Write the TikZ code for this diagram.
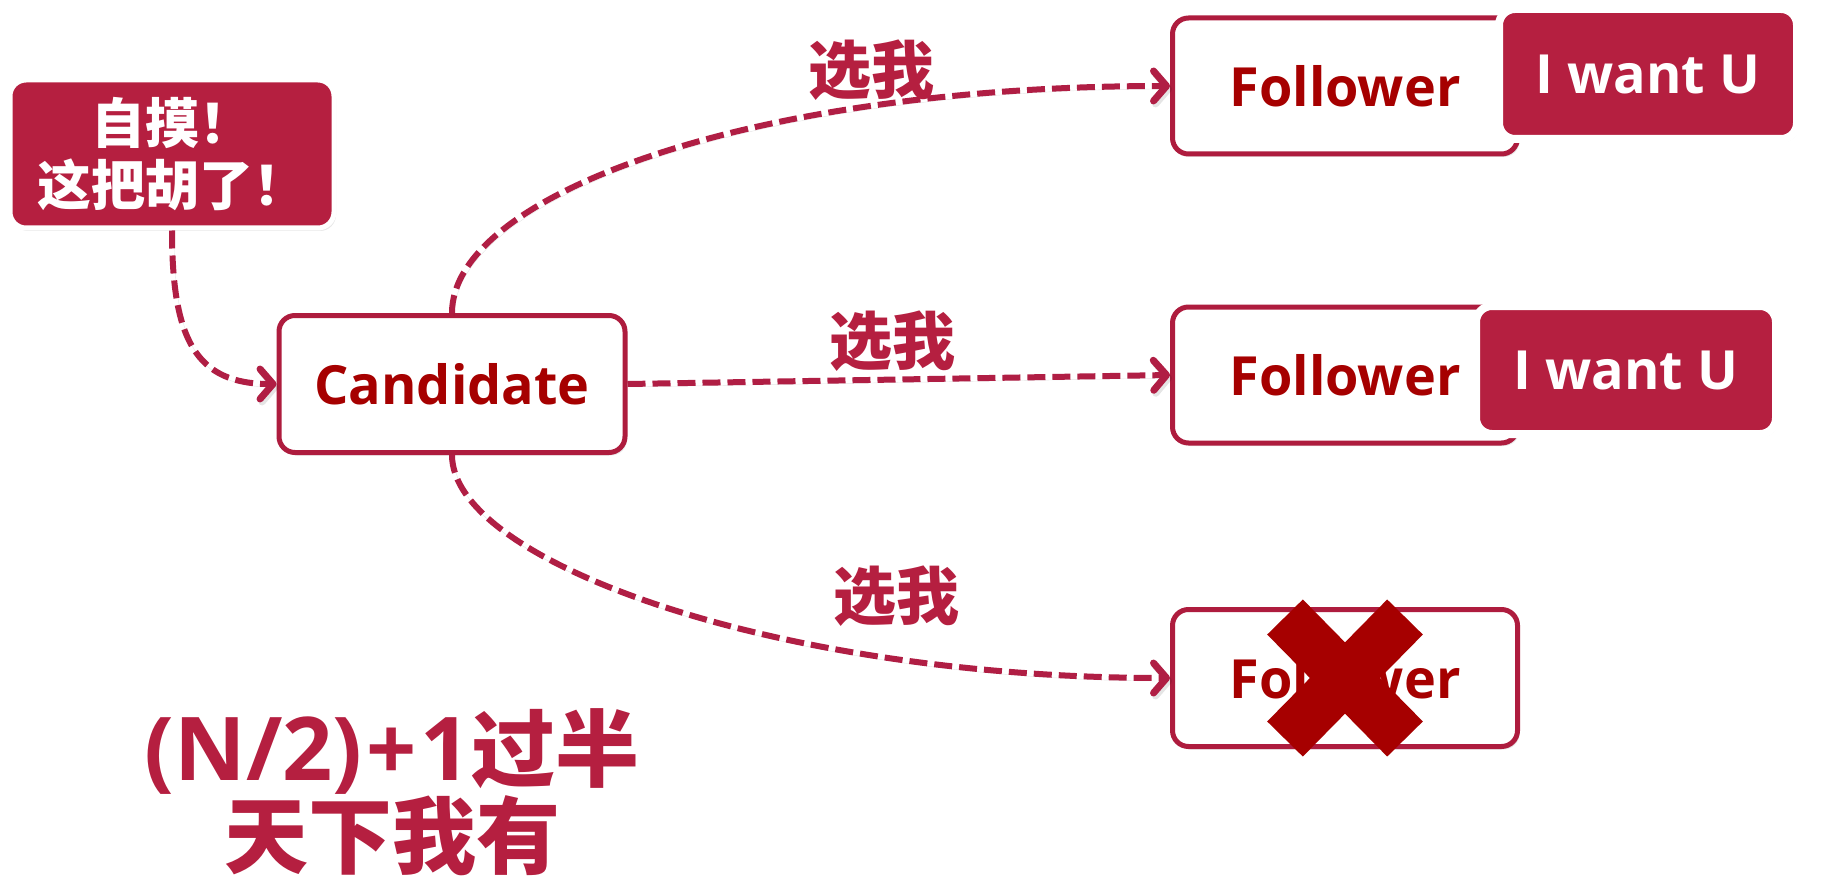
\documentclass[tikz,border=0pt]{standalone}
\usepackage{fontspec}
\setmainfont{Open Sans}
\newfontfamily\cjk{Noto Sans CJK SC}
\usetikzlibrary{arrows.meta,shadows}

\definecolor{crimson}{HTML}{B51F40}
\definecolor{linered}{HTML}{B01E44}
\definecolor{deepred}{HTML}{A60000}
\definecolor{framered}{HTML}{AE1C3E}

\newcommand\fsz[1]{\fontsize{#1}{#1}\selectfont}

\tikzset{
  boxbase/.style={rounded corners=16pt, inner sep=0pt, align=center},
  whitebox/.style={boxbase, fill=white, draw=framered, line width=5pt,
    text=deepred, font=\bfseries\fsz{54},
    minimum width=345pt, minimum height=136pt,
    drop shadow={opacity=0.18, shadow xshift=2pt, shadow yshift=-3pt}},
  redbox/.style={boxbase, fill=crimson, draw=white, line width=8pt,
    text=white, font=\bfseries\fsz{54},
    drop shadow={opacity=0.18, shadow xshift=2pt, shadow yshift=-3pt}},
  flow/.style={draw=linered, line width=6pt, dash pattern=on 18pt off 7pt,
    -{Straight Barb[length=13pt,width=30pt,line width=7pt,round]},
    preaction={draw=black, opacity=0.10, transform canvas={shift={(2pt,-3pt)}}}},
  pick/.style={text=crimson, font=\cjk\bfseries\fsz{63}},
  xmark/.style={draw=deepred, line width=50pt, line cap=butt}
}

\begin{document}
\begin{tikzpicture}[x=1pt, y=-1pt]
  \useasboundingbox[fill=white] (0,0) rectangle (1830,885);

  % the winning hand
  \node[redbox, line width=5pt, minimum width=324pt, minimum height=148pt,
        font=\cjk\bfseries\fontsize{54}{62}\selectfont] (win) at (172,154)
        {自摸！\\这把胡了！};

  % candidate and followers
  \node[whitebox, minimum width=346pt, minimum height=137pt] (cand) at (452,384) {Candidate};

  \node[whitebox] (f1) at (1345,86) {Follower};
  \node[redbox, minimum width=298pt, minimum height=130pt] (w1) at (1648,74) {I want U};

  \node[whitebox] (f2) at (1345,375) {Follower};
  \node[redbox, minimum width=300pt, minimum height=128pt] (w2) at (1626,370) {I want U};

  \node[whitebox, minimum height=137pt] (f3) at (1345,678) {Follower};

  % vote requests
  \draw[flow] (win.south) .. controls +(0,110) and +(-80,0) .. (cand.west);
  \draw[flow] (cand.north) .. controls +(0,-117) and +(-422,0) .. (f1.west);
  \draw[flow] (cand.east) -- (f2.west);
  \draw[flow] (cand.south) .. controls +(0,107) and +(-392,0) .. (f3.west);

  \node[pick] (l1) at (871,70) {选我};
  \node[pick] (l2) at (892,341) {选我};
  \node[pick] (l3) at (896,596) {选我};

  % the follower that says no
  \draw[xmark] ([shift={(-60,-61)}]f3.center) -- ([shift={(60,61)}]f3.center)
               ([shift={(60,-61)}]f3.center) -- ([shift={(-60,61)}]f3.center);

  % majority rule
  \node[text=crimson, font=\bfseries\fontsize{88}{80}\selectfont, align=center,
        inner sep=0pt] (motto) at (392,792)
        {(N/2)\hspace{4pt}+\hspace{4pt}1{\cjk\fontsize{84}{80}\selectfont 过半}\\
         {\cjk\fontsize{84}{80}\selectfont 天下我有}};
\end{tikzpicture}
\end{document}
